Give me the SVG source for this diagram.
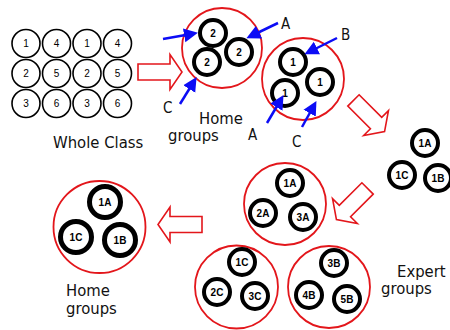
<svg xmlns="http://www.w3.org/2000/svg" width="450" height="330" viewBox="0 0 450 330">
  <style>
    .lbl { font-family: "DejaVu Sans Condensed", "DejaVu Sans", sans-serif; font-stretch: condensed; font-size: 16.5px; fill: #111; }
    .let { font-family: "DejaVu Sans Condensed", "DejaVu Sans", sans-serif; font-stretch: condensed; font-size: 15px; fill: #111; }
    .grid circle { fill: #fff; stroke: #000; stroke-width: 1.6; }
    .grid text { font-family: "Liberation Sans", Arial, sans-serif; font-size: 10px; text-anchor: middle; fill: #000; }
    .p circle { fill: #fff; stroke: #000; stroke-width: 4; }
    .p text { font-family: "Liberation Sans", Arial, sans-serif; font-weight: bold; font-size: 10px; text-anchor: middle; fill: #000; }
    .big circle { stroke-width: 5; }
    .p circle.ring { fill: none; stroke: #e3161b; stroke-width: 1.8; }
    .flow { fill: #fff; stroke: #e3161b; stroke-width: 1.6; stroke-linejoin: miter; }
    .ptr { stroke: #0c0cf5; stroke-width: 2.5; fill: none; marker-end: url(#head); }
  </style>
  <defs>
    <marker id="head" markerUnits="userSpaceOnUse" markerWidth="15" markerHeight="15" refX="10" refY="7.5" orient="auto">
      <path d="M0,0.5 L14,7.5 L0,14.5 z" fill="#0c0cf5"/>
    </marker>
    <path id="bigArrow" d="M-22,-8 L10,-8 L10,-17.5 L22,0 L10,17.5 L10,8 L-22,8 z"/>
  </defs>

  <!-- whole class -->
  <g id="whole-class" class="grid">
    <circle cx="26" cy="43.5" r="14"/><text x="26" y="47">1</text>
    <circle cx="56.5" cy="43.5" r="14"/><text x="56.5" y="47">4</text>
    <circle cx="87" cy="43.5" r="14"/><text x="87" y="47">1</text>
    <circle cx="117.5" cy="43.5" r="14"/><text x="117.5" y="47">4</text>
    <circle cx="26" cy="73.5" r="14"/><text x="26" y="77">2</text>
    <circle cx="56.5" cy="73.5" r="14"/><text x="56.5" y="77">5</text>
    <circle cx="87" cy="73.5" r="14"/><text x="87" y="77">2</text>
    <circle cx="117.5" cy="73.5" r="14"/><text x="117.5" y="77">5</text>
    <circle cx="26" cy="103.5" r="14"/><text x="26" y="107">3</text>
    <circle cx="56.5" cy="103.5" r="14"/><text x="56.5" y="107">6</text>
    <circle cx="87" cy="103.5" r="14"/><text x="87" y="107">3</text>
    <circle cx="117.5" cy="103.5" r="14"/><text x="117.5" y="107">6</text>
  </g>
  <text class="lbl" x="53" y="148">Whole Class</text>

  <!-- home group 2 -->
  <g id="home-2" class="p">
    <circle class="ring" cx="222" cy="48" r="40"/>
    <circle cx="213" cy="33" r="13"/><text x="213" y="37">2</text>
    <circle cx="239" cy="52" r="13"/><text x="239" y="56">2</text>
    <circle cx="207" cy="62" r="13"/><text x="207" y="66">2</text>
  </g>

  <!-- home group 1 -->
  <g id="home-1" class="p">
    <circle class="ring" cx="303" cy="79" r="41"/>
    <circle cx="293" cy="62" r="13"/><text x="293" y="66">1</text>
    <circle cx="320" cy="82" r="13"/><text x="320" y="86">1</text>
    <circle cx="285" cy="93" r="13"/><text x="285" y="97">1</text>
  </g>
  <text class="lbl" x="199" y="124">Home</text>
  <text class="lbl" x="168" y="141">groups</text>
  <text class="let" x="281" y="29">A</text>
  <text class="let" x="341" y="40">B</text>
  <text class="let" x="163" y="113">C</text>
  <text class="let" x="248" y="140">A</text>
  <text class="let" x="292" y="147">C</text>

  <!-- expert group forming -->
  <g id="expert-forming" class="p">
    <circle cx="425" cy="143" r="13"/><text x="425" y="147">1A</text>
    <circle cx="402" cy="175" r="13"/><text x="402" y="179">1C</text>
    <circle cx="438" cy="178" r="13"/><text x="438" y="182">1B</text>
  </g>

  <!-- expert group A -->
  <g id="expert-a" class="p">
    <circle class="ring" cx="285" cy="204" r="41"/>
    <circle cx="290" cy="183" r="13"/><text x="290" y="187">1A</text>
    <circle cx="263" cy="213" r="13"/><text x="263" y="217">2A</text>
    <circle cx="303" cy="217" r="13"/><text x="303" y="221">3A</text>
  </g>

  <!-- expert group C -->
  <g id="expert-c" class="p">
    <circle class="ring" cx="236.5" cy="287" r="41.5"/>
    <circle cx="242" cy="262" r="13"/><text x="242" y="266">1C</text>
    <circle cx="217" cy="292" r="13"/><text x="217" y="296">2C</text>
    <circle cx="255" cy="296" r="13"/><text x="255" y="300">3C</text>
  </g>

  <!-- expert group B -->
  <g id="expert-b" class="p">
    <circle class="ring" cx="329" cy="287" r="41"/>
    <circle cx="334" cy="263" r="13"/><text x="334" y="267">3B</text>
    <circle cx="309" cy="295" r="13"/><text x="309" y="299">4B</text>
    <circle cx="347" cy="299" r="13"/><text x="347" y="303">5B</text>
  </g>
  <text class="lbl" x="397" y="277">Expert</text>
  <text class="lbl" x="381" y="294">groups</text>

  <!-- home group reformed -->
  <g id="home-return" class="p big">
    <circle class="ring" cx="99.5" cy="227" r="46"/>
    <circle cx="105" cy="202" r="15.5"/><text x="105" y="206">1A</text>
    <circle cx="76" cy="237" r="15.5"/><text x="76" y="241">1C</text>
    <circle cx="120" cy="240" r="15.5"/><text x="120" y="244">1B</text>
  </g>
  <text class="lbl" x="66" y="296">Home</text>
  <text class="lbl" x="66" y="314">groups</text>

  <!-- connectors -->
  <g id="connectors">
    <use href="#bigArrow" class="flow" transform="translate(160,72)"/>
    <use href="#bigArrow" class="flow" transform="translate(369,116) rotate(45)"/>
    <use href="#bigArrow" class="flow" transform="translate(352,204) rotate(135)"/>
    <use href="#bigArrow" class="flow" transform="translate(180,224.5) rotate(180)"/>
    <line class="ptr" x1="163" y1="39" x2="194" y2="33.5"/>
    <line class="ptr" x1="278" y1="23" x2="250" y2="36.5"/>
    <line class="ptr" x1="180" y1="104" x2="194.5" y2="80.5"/>
    <line class="ptr" x1="337" y1="38" x2="308" y2="52.5"/>
    <line class="ptr" x1="267" y1="123" x2="281.5" y2="98.5"/>
    <line class="ptr" x1="302" y1="127" x2="314.5" y2="104.5"/>
  </g>
</svg>
